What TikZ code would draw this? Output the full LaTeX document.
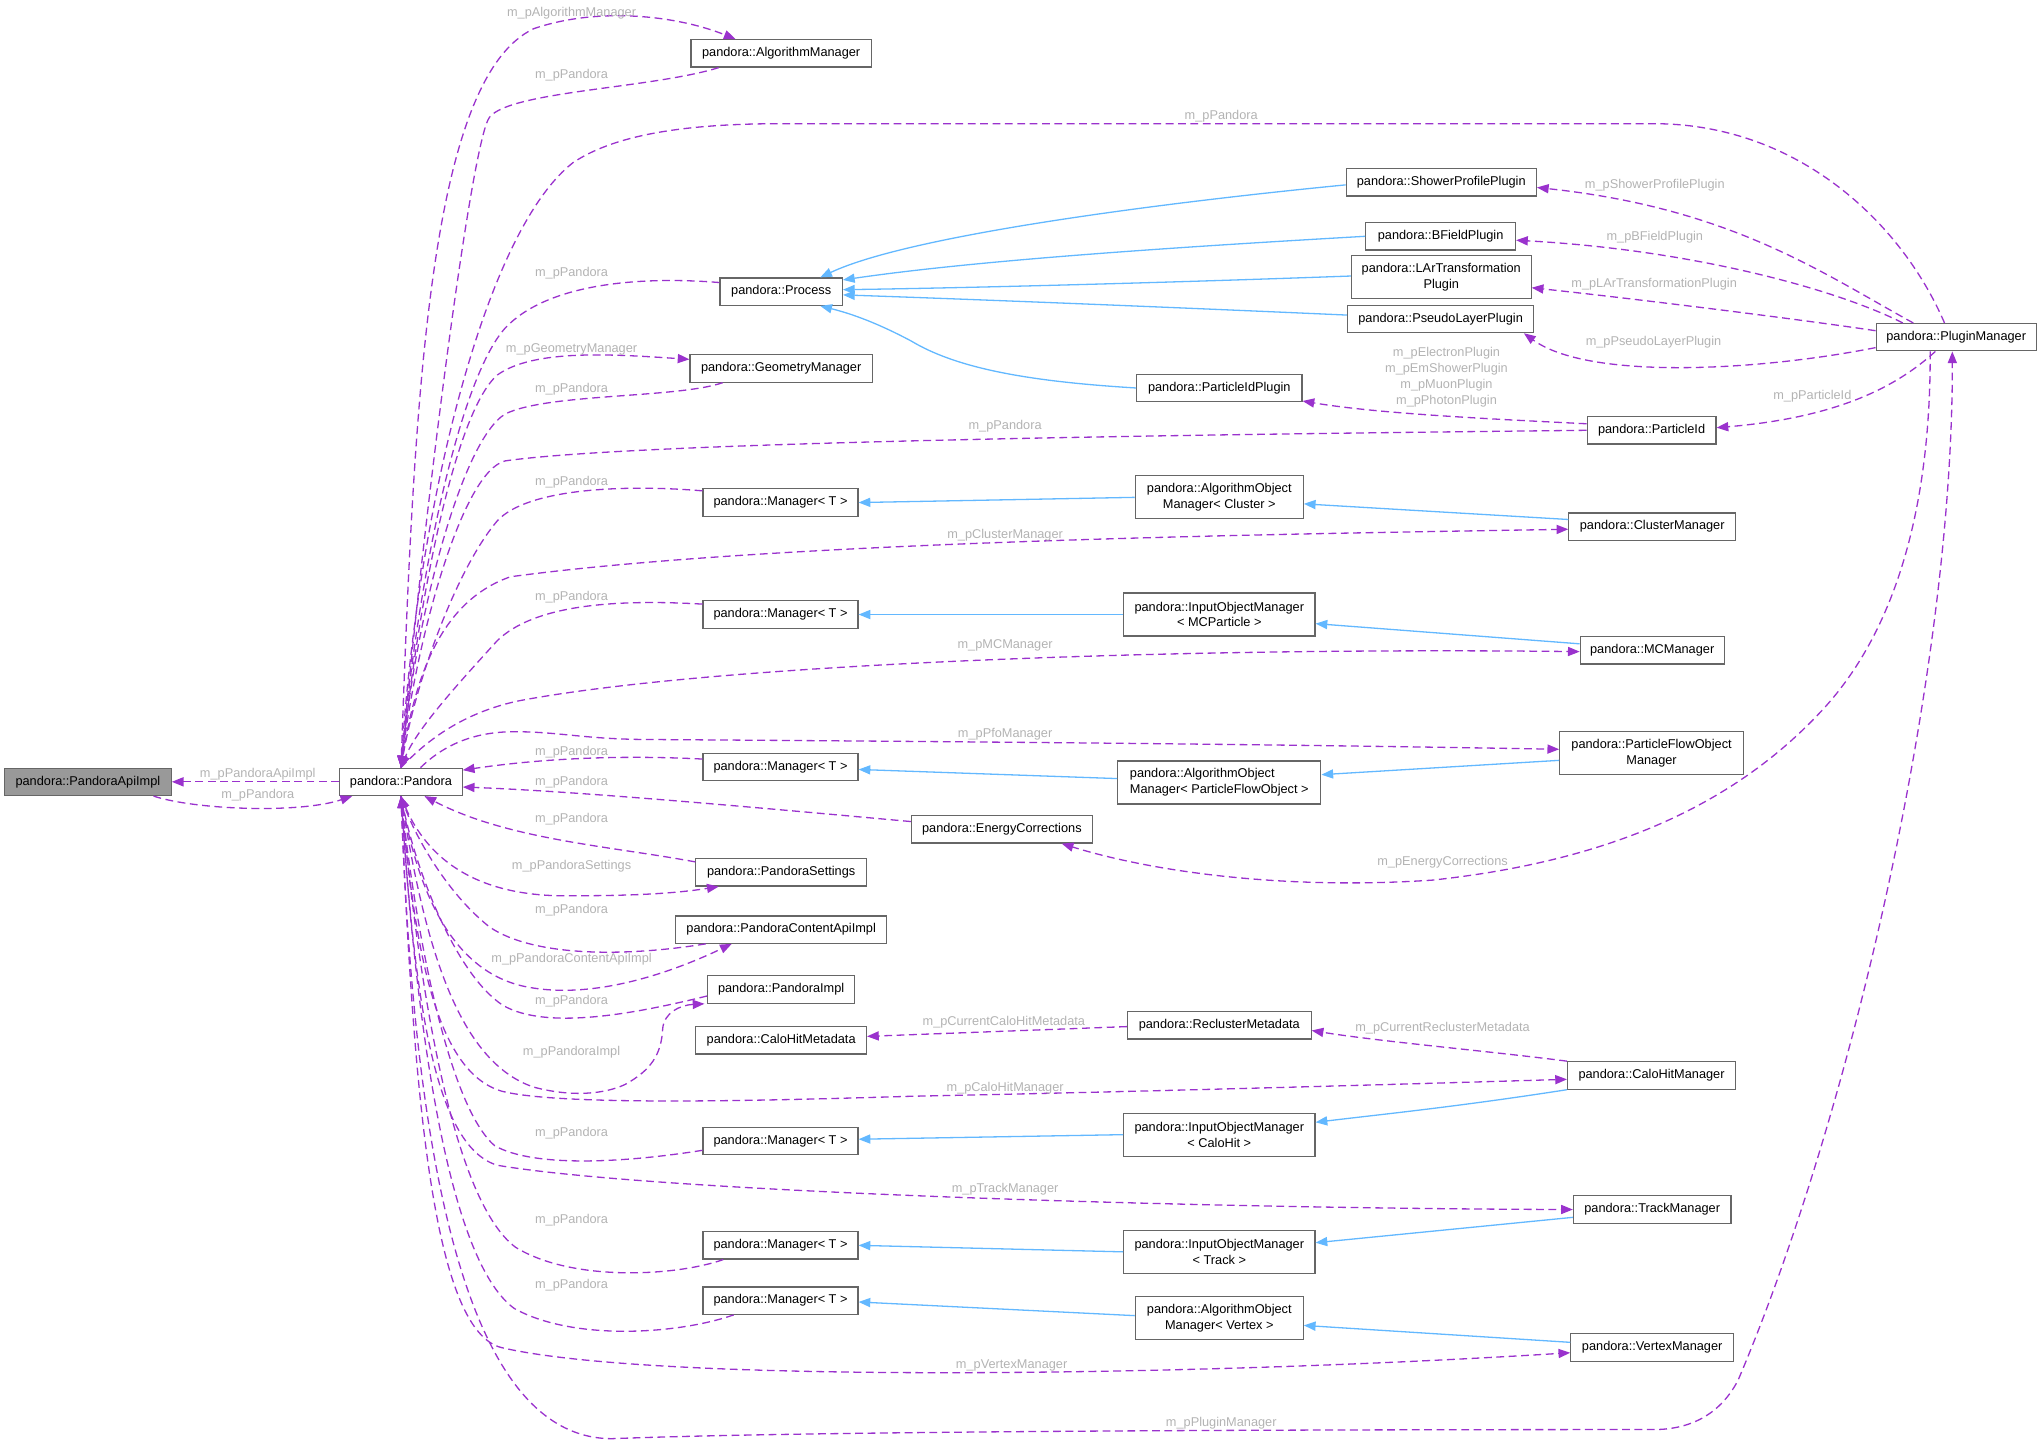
\documentclass[tikz,border=0pt]{standalone}
\usepackage{fontspec}
\setmainfont{Liberation Sans}
\usetikzlibrary{arrows.meta}
\definecolor{purp}{HTML}{9A32CD}
\definecolor{blu}{HTML}{63B8FF}
\definecolor{boxc}{HTML}{666666}
\definecolor{lblc}{HTML}{B3B3B3}
\definecolor{apifill}{HTML}{999999}
\newcommand\myNodeFont{\fontsize{9.8}{12}\selectfont}
\newcommand\myLblFont{\fontsize{9.8}{12.3}\selectfont}
\tikzset{
  box/.style={draw=boxc, fill=white, line width=0.9pt, inner sep=0pt, minimum height=21pt, font=\myNodeFont, align=center},
  box2/.style={box, minimum height=33pt},
  dep/.style={draw=purp, line width=1pt, dash pattern=on 6pt off 3.5pt, -{Triangle[length=9pt,width=7pt]}},
  inh/.style={draw=blu, line width=1pt, -{Triangle[length=9pt,width=7pt]}},
  lbl/.style={text=lblc, font=\myLblFont, inner sep=0pt, align=center},
}
\begin{document}
\begin{tikzpicture}[x=1pt,y=-1pt]
\useasboundingbox (0,0) rectangle (1568.4,1109.8);
% ---------- nodes ----------
\node[box, fill=apifill, minimum width=128pt] (apiimpl) at (67.5,600.5) {pandora::PandoraApiImpl};
\node[box, minimum width=94pt] (pandora) at (308,600.5) {pandora::Pandora};
\node[box, minimum width=138.5pt] (algmgr) at (600,41) {pandora::AlgorithmManager};
\node[box, minimum width=94pt] (process) at (600,224) {pandora::Process};
\node[box, minimum width=140pt] (geommgr) at (600,283) {pandora::GeometryManager};
\node[box, minimum width=119pt] (mgrA) at (599.5,386) {pandora::Manager\textless{} T \textgreater};
\node[box, minimum width=119pt] (mgrB) at (599.5,472) {pandora::Manager\textless{} T \textgreater};
\node[box, minimum width=119pt] (mgrC) at (599.5,589) {pandora::Manager\textless{} T \textgreater};
\node[box, minimum width=119pt] (mgrD) at (599.5,876.5) {pandora::Manager\textless{} T \textgreater};
\node[box, minimum width=119pt] (mgrE) at (599.5,956.5) {pandora::Manager\textless{} T \textgreater};
\node[box, minimum width=119pt] (mgrF) at (599.5,999) {pandora::Manager\textless{} T \textgreater};
\node[box, minimum width=139pt] (energy) at (769.5,637) {pandora::EnergyCorrections};
\node[box, minimum width=131pt] (settings) at (600,670) {pandora::PandoraSettings};
\node[box, minimum width=162pt] (contentapi) at (600,714) {pandora::PandoraContentApiImpl};
\node[box, minimum width=113pt] (pandoraimpl) at (600,760) {pandora::PandoraImpl};
\node[box, minimum width=131pt] (calometa) at (600,799) {pandora::CaloHitMetadata};
\node[box, minimum width=146pt] (showerpp) at (1107,140) {pandora::ShowerProfilePlugin};
\node[box, minimum width=115pt] (bfield) at (1106.5,181.5) {pandora::BFieldPlugin};
\node[box2, minimum width=138pt] (lart) at (1107,213) {pandora::LArTransformation\\Plugin};
\node[box, minimum width=143pt] (pseudo) at (1106.5,245) {pandora::PseudoLayerPlugin};
\node[box, minimum width=127pt] (pidplugin) at (936.5,298) {pandora::ParticleIdPlugin};
\node[box, minimum width=99pt] (particleid) at (1268.5,330.5) {pandora::ParticleId};
\node[box, minimum width=123pt] (pluginmgr) at (1502.5,259) {pandora::PluginManager};
\node[box2, minimum width=129pt] (algcluster) at (936.5,382) {pandora::AlgorithmObject\\Manager\textless{} Cluster \textgreater};
\node[box, minimum width=128pt] (clustermgr) at (1269,404.5) {pandora::ClusterManager};
\node[box2, minimum width=147pt] (inmc) at (936.5,472) {pandora::InputObjectManager\\\textless{} MCParticle \textgreater};
\node[box, minimum width=110.5pt] (mcmgr) at (1269,499.5) {pandora::MCManager};
\node[box2, minimum width=141pt] (pfomgr) at (1268.5,578.5) {pandora::ParticleFlowObject\\Manager};
\node[box2, minimum width=156pt, align=left] (algpfo) at (936.5,601) {pandora::AlgorithmObject\\Manager\textless{} ParticleFlowObject \textgreater};
\node[box, minimum width=141pt] (recluster) at (936.5,787.5) {pandora::ReclusterMetadata};
\node[box, minimum width=129pt] (calohitmgr) at (1268.5,826) {pandora::CaloHitManager};
\node[box2, minimum width=147pt] (incalo) at (936.5,871.5) {pandora::InputObjectManager\\\textless{} CaloHit \textgreater};
\node[box, minimum width=121pt] (trackmgr) at (1269,929) {pandora::TrackManager};
\node[box2, minimum width=147pt] (intrack) at (936.5,961.5) {pandora::InputObjectManager\\\textless{} Track \textgreater};
\node[box2, minimum width=129pt] (algvertex) at (936.5,1012.5) {pandora::AlgorithmObject\\Manager\textless{} Vertex \textgreater};
\node[box, minimum width=125pt] (vertexmgr) at (1269,1035) {pandora::VertexManager};
% ---------- inheritance (blue) ----------
\draw[inh] ([yshift=-2pt]showerpp.west) .. controls (900,155) and (700,180) .. ([xshift=30pt]process.north);
\draw[inh] (bfield.west) .. controls (900,190) and (750,200) .. ([yshift=9pt]process.east);
\draw[inh] ([yshift=1pt]lart.west) .. controls (900,217) and (750,221) .. ([yshift=1.5pt]process.east);
\draw[inh] ([yshift=3pt]pseudo.west) .. controls (900,236) and (750,230) .. ([yshift=-2.5pt]process.east);
\draw[inh] (pidplugin.west) .. controls (790,293) and (735,283) .. (700,262) .. controls (670,246) and (650,240) .. ([xshift=30pt]process.south);
\draw[inh] (algcluster.west) -- (mgrA.east);
\draw[inh] ([yshift=5.5pt]clustermgr.west) -- ([yshift=-5pt]algcluster.east);
\draw[inh] (inmc.west) -- (mgrB.east);
\draw[inh] ([yshift=5pt]mcmgr.west) -- ([yshift=-7pt]inmc.east);
\draw[inh] ([yshift=3pt]algpfo.west) -- ([yshift=-2pt]mgrC.east);
\draw[inh] ([yshift=-5.5pt]pfomgr.west) -- ([yshift=6pt]algpfo.east);
\draw[inh] (incalo.west) -- ([yshift=1.5pt]mgrD.east);
\draw[inh] (calohitmgr.south west) .. controls (1120,850) and (1060,856) .. ([yshift=9.5pt]incalo.east);
\draw[inh] (intrack.west) -- (mgrE.east);
\draw[inh] ([yshift=-6pt]trackmgr.west) -- ([yshift=7pt]intrack.east);
\draw[inh] ([yshift=2pt]algvertex.west) -- ([yshift=-1pt]mgrF.east);
\draw[inh] ([yshift=4pt]vertexmgr.west) -- ([yshift=-5.5pt]algvertex.east);
% ---------- usage (purple dashed) ----------
% PandoraApiImpl <-> Pandora
\draw[dep] (pandora.west) -- (apiimpl.east);
\draw[dep] ([xshift=-14pt]apiimpl.south east) .. controls (150,622) and (230,625) .. ([xshift=10pt]pandora.south west);
% upper fan
\draw[dep] (pandora.north) .. controls (318,300) and (330,60) .. (410,22) .. controls (460,5) and (520,12) .. ([xshift=-35pt]algmgr.north);
\draw[dep] ([xshift=-48pt]algmgr.south) .. controls (500,68) and (392,70) .. (376,90) .. controls (362,108) and (325,400) .. (pandora.north);
\draw[dep] ([xshift=-9pt]pluginmgr.north) .. controls (1460,170) and (1380,95) .. (1270,95) -- (600,95) .. controls (520,95) and (470,105) .. (440,125) .. controls (370,180) and (320,400) .. (pandora.north);
\draw[dep] ([yshift=7pt]process.west) .. controls (490,212) and (420,218) .. (388,252) .. controls (352,292) and (320,450) .. (pandora.north);
\draw[dep] (pandora.north) .. controls (320,470) and (348,318) .. (382,288) .. controls (410,268) and (470,272) .. ([yshift=7pt]geommgr.west);
\draw[dep] ([xshift=-45pt]geommgr.south) .. controls (520,306) and (420,302) .. (388,318) .. controls (355,338) and (320,470) .. (pandora.north);
\draw[dep] (particleid.west) .. controls (1000,333) and (500,338) .. (388,354) .. controls (355,362) and (320,490) .. (pandora.north);
\draw[dep] ([yshift=9pt]mgrA.west) .. controls (480,372) and (405,375) .. (382,400) .. controls (352,435) and (320,520) .. (pandora.north);
\draw[dep] (pandora.north) .. controls (318,520) and (338,462) .. (392,443) .. controls (600,415) and (1000,410) .. ([yshift=-2pt]clustermgr.west);
\draw[dep] ([yshift=8pt]mgrB.west) .. controls (470,460) and (410,465) .. (382,492) .. controls (352,525) and (320,560) .. (pandora.north);
\draw[dep] (pandora.north) .. controls (322,575) and (350,548) .. (400,538) .. controls (550,510) and (900,497) .. ([yshift=-1pt]mcmgr.west);
\draw[dep] ([xshift=15pt]pandora.north) .. controls (338,575) and (360,562) .. (395,562) .. controls (430,562) and (450,568) .. (500,568) .. controls (800,570) and (1000,572) .. ([yshift=3pt]pfomgr.west);
% right side of Pandora
\draw[dep] ([yshift=6pt]mgrC.west) .. controls (480,580) and (420,582) .. ([yshift=9pt]pandora.east);
\draw[dep] ([yshift=6pt]energy.west) .. controls (600,622) and (450,608) .. ([yshift=-4pt]pandora.east);
% lower fan
\draw[dep] ([yshift=8pt]settings.west) .. controls (470,650) and (390,645) .. ([xshift=18pt]pandora.south);
\draw[dep] (pandora.south) .. controls (320,645) and (350,690) .. (440,688) .. controls (490,688) and (520,686) .. ([xshift=-48pt]settings.south);
\draw[dep] ([xshift=-58pt]contentapi.south) .. controls (480,735) and (410,735) .. (376,712) .. controls (342,685) and (318,640) .. (pandora.south);
\draw[dep] (pandora.south) .. controls (318,670) and (340,742) .. (400,757) .. controls (455,770) and (520,745) .. ([xshift=-38pt]contentapi.south);
\draw[dep] ([yshift=-5pt]pandoraimpl.west) .. controls (490,778) and (420,792) .. (386,772) .. controls (350,748) and (320,670) .. (pandora.south);
\draw[dep] (pandora.south) .. controls (325,720) and (350,815) .. (410,835) .. controls (440,843) and (465,840) .. (480,833) .. controls (500,822) and (508,810) .. (509,790) .. controls (510,778) and (522,772) .. ([xshift=-2pt]pandoraimpl.south west);
\draw[dep] (pandora.south) .. controls (318,720) and (332,822) .. (385,838) .. controls (430,850) and (600,845) .. (700,842) .. controls (900,838) and (1100,832) .. ([yshift=-3pt]calohitmgr.west);
\draw[dep] ([yshift=-7pt]mgrD.west) .. controls (480,893) and (410,897) .. (380,880) .. controls (345,850) and (320,720) .. (pandora.south);
\draw[dep] (pandora.south) .. controls (318,760) and (332,880) .. (382,895) .. controls (500,915) and (900,928) .. (trackmgr.west);
\draw[dep] ([xshift=-44pt]mgrE.south) .. controls (520,980) and (440,985) .. (396,958) .. controls (345,920) and (320,740) .. (pandora.south);
\draw[dep] ([xshift=-36pt]mgrF.south) .. controls (520,1025) and (440,1030) .. (395,1005) .. controls (340,965) and (318,760) .. (pandora.south);
\draw[dep] (pandora.south) .. controls (318,860) and (335,1022) .. (385,1035) .. controls (500,1062) and (900,1058) .. ([yshift=-4pt]vertexmgr.west);
\draw[dep] (pandora.south) .. controls (318,900) and (360,1105) .. (470,1105) .. controls (600,1100) and (900,1098) .. (1270,1098) .. controls (1300,1098) and (1322,1085) .. (1335,1060) .. controls (1420,860) and (1500,520) .. ([xshift=-3pt]pluginmgr.south);
% plugin manager
\draw[dep] ([xshift=-33pt]pluginmgr.north) .. controls (1400,210) and (1330,160) .. ([yshift=-4pt]showerpp.east);
\draw[dep] ([xshift=-41pt]pluginmgr.north) .. controls (1410,222) and (1300,192) .. ([yshift=-3pt]bfield.east);
\draw[dep] ([yshift=5pt]pluginmgr.west) .. controls (1380,245) and (1260,230) .. ([yshift=-8pt]lart.east);
\draw[dep] ([yshift=-8pt]pluginmgr.west) .. controls (1350,285) and (1220,292) .. ([xshift=-8pt]pseudo.south east);
\draw[dep] ([xshift=-16pt]pluginmgr.south) .. controls (1462,292) and (1420,320) .. ([yshift=2pt]particleid.east);
\draw[dep] ([yshift=5pt]particleid.west) .. controls (1150,322) and (1060,318) .. ([yshift=-10pt]pidplugin.east);
\draw[dep] ([xshift=-20pt]pluginmgr.south) .. controls (1483,380) and (1460,480) .. (1400,545) .. controls (1340,610) and (1250,660) .. (1100,676) .. controls (980,684) and (880,668) .. ([xshift=-24pt]energy.south east);
% metadata
\draw[dep] ([yshift=-1pt]recluster.west) -- ([yshift=3pt]calometa.east);
\draw[dep] (calohitmgr.north west) .. controls (1150,808) and (1060,800) .. ([yshift=-4pt]recluster.east);
% ---------- labels ----------
\node[lbl] (l1) at (439,10.5) {m\_pAlgorithmManager};
\node[lbl] (l2) at (439,57.5) {m\_pPandora};
\node[lbl] (l3) at (938,89.5) {m\_pPandora};
\node[lbl] (l4) at (439,209.5) {m\_pPandora};
\node[lbl] (l5) at (439,268) {m\_pGeometryManager};
\node[lbl] (l6) at (439,299) {m\_pPandora};
\node[lbl] (l7) at (772,327.5) {m\_pPandora};
\node[lbl] (l8) at (439,370) {m\_pPandora};
\node[lbl] (l9) at (772,411) {m\_pClusterManager};
\node[lbl] (l10) at (439,459) {m\_pPandora};
\node[lbl] (l11) at (772,496) {m\_pMCManager};
\node[lbl] (l12) at (772,564) {m\_pPfoManager};
\node[lbl] (l13) at (439,578) {m\_pPandora};
\node[lbl] (l14) at (198,594.5) {m\_pPandoraApiImpl};
\node[lbl] (l15) at (439,600.5) {m\_pPandora};
\node[lbl] (l16) at (198,610.5) {m\_pPandora};
\node[lbl] (l17) at (439,629) {m\_pPandora};
\node[lbl] (l18) at (439,665) {m\_pPandoraSettings};
\node[lbl] (l19) at (439,699) {m\_pPandora};
\node[lbl] (l20) at (439,736.5) {m\_pPandoraContentApiImpl};
\node[lbl] (l21) at (439,769) {m\_pPandora};
\node[lbl] (l22) at (439,808.5) {m\_pPandoraImpl};
\node[lbl] (l23) at (772,836) {m\_pCaloHitManager};
\node[lbl] (l24) at (439,870) {m\_pPandora};
\node[lbl] (l25) at (772,913) {m\_pTrackManager};
\node[lbl] (l26) at (439,937.5) {m\_pPandora};
\node[lbl] (l27) at (439,987) {m\_pPandora};
\node[lbl] (l28) at (777,1049) {m\_pVertexManager};
\node[lbl] (l29) at (938,1093) {m\_pPluginManager};
\node[lbl] (l30) at (1271,142) {m\_pShowerProfilePlugin};
\node[lbl] (l31) at (1271,182) {m\_pBFieldPlugin};
\node[lbl] (l32) at (1270.5,218) {m\_pLArTransformationPlugin};
\node[lbl] (l33) at (1270,263) {m\_pPseudoLayerPlugin};
\node[lbl] (l34) at (1111,289.5) {m\_pElectronPlugin\\m\_pEmShowerPlugin\\m\_pMuonPlugin\\m\_pPhotonPlugin};
\node[lbl] (l35) at (1392,304) {m\_pParticleId};
\node[lbl] (l36) at (1108,662) {m\_pEnergyCorrections};
\node[lbl] (l37) at (771,785) {m\_pCurrentCaloHitMetadata};
\node[lbl] (l38) at (1108,790) {m\_pCurrentReclusterMetadata};
\end{tikzpicture}
\end{document}
